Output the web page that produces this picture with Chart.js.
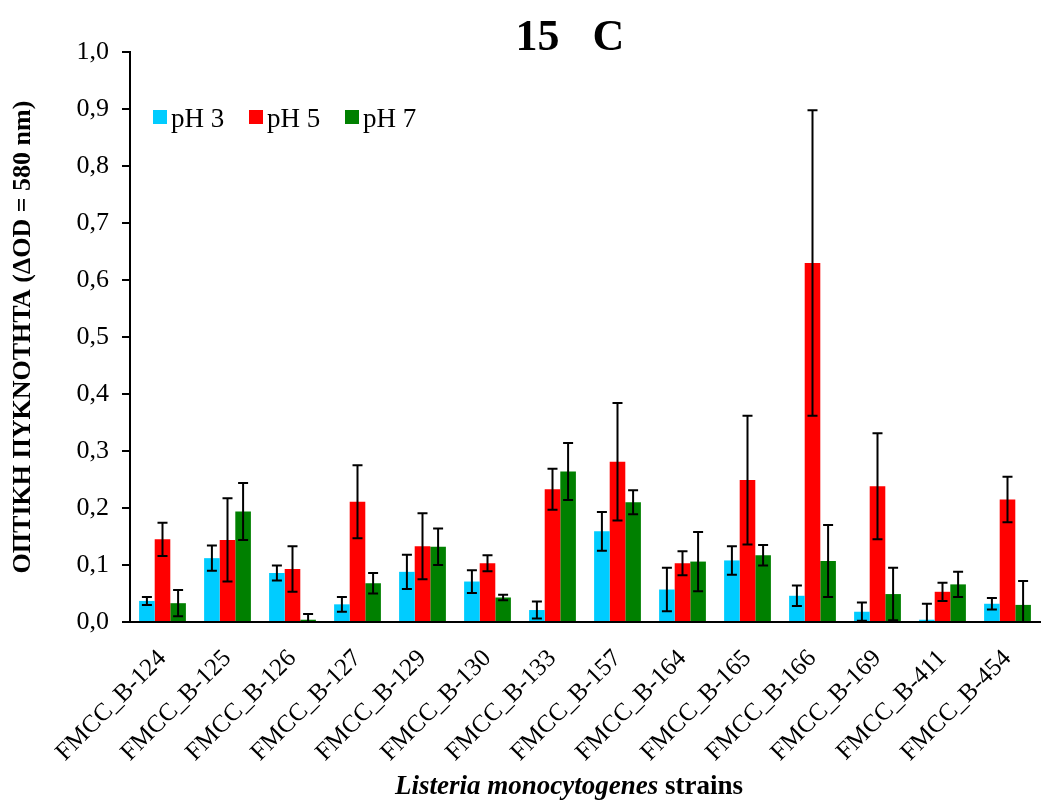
<!DOCTYPE html>
<html>
<head>
<meta charset="utf-8">
<script src="https://cdn.jsdelivr.net/npm/chart.js@4"></script>
<style>
    body { margin: 0; background: #fff; }
    #wrap { width: 1044px; height: 801px; }
</style>
</head>
<body>
<div id="wrap"><canvas id="odChart" width="1044" height="801"></canvas></div>
<script>
// strains on the x axis
const strains = ['FMCC_B-124', 'FMCC_B-125', 'FMCC_B-126', 'FMCC_B-127', 'FMCC_B-129', 'FMCC_B-130', 'FMCC_B-133',
    'FMCC_B-157', 'FMCC_B-164', 'FMCC_B-165', 'FMCC_B-166', 'FMCC_B-169', 'FMCC_B-411', 'FMCC_B-454'];

// mean OD values per pH
const ph3 = [0.037, 0.112, 0.086, 0.031, 0.088, 0.071, 0.021, 0.159, 0.057, 0.108, 0.046, 0.018, 0.004, 0.032];
const ph5 = [0.145, 0.144, 0.093, 0.211, 0.133, 0.103, 0.233, 0.281, 0.103, 0.249, 0.630, 0.238, 0.053, 0.215];
const ph7 = [0.033, 0.194, 0.004, 0.068, 0.132, 0.043, 0.264, 0.210, 0.106, 0.117, 0.107, 0.049, 0.066, 0.030];

// standard deviations (error bars)
const ph3Err = [0.007, 0.022, 0.013, 0.013, 0.030, 0.020, 0.015, 0.034, 0.038, 0.025, 0.018, 0.016, 0.028, 0.010];
const ph5Err = [0.029, 0.073, 0.040, 0.064, 0.058, 0.014, 0.036, 0.103, 0.021, 0.113, 0.268, 0.093, 0.016, 0.040];
const ph7Err = [0.023, 0.050, 0.010, 0.018, 0.032, 0.005, 0.050, 0.021, 0.052, 0.018, 0.063, 0.046, 0.022, 0.042];

const seriesNames = ['pH 3', 'pH 5', 'pH 7'];
const seriesColors = ['#00CCFF', '#FF0000', '#008000'];

const serif = "'Liberation Serif', 'Times New Roman', serif";

// draws the error bars from the y scale
const errorBars = {
    id: 'errorBars',
    afterDatasetsDraw(chart) {
        const ctx = chart.ctx;
        const y = chart.scales.y;
        const bottom = chart.chartArea.bottom;
        ctx.save();
        ctx.strokeStyle = '#000';
        ctx.lineWidth = 2;
        chart.data.datasets.forEach((ds, di) => {
            const meta = chart.getDatasetMeta(di);
            meta.data.forEach((bar, i) => {
                const v = ds.data[i];
                const e = ds.errors[i];
                const top = y.getPixelForValue(v + e);
                let low = y.getPixelForValue(v - e);
                const clipped = low > bottom;
                if (clipped) low = bottom;
                const cap = 5;
                ctx.beginPath();
                ctx.moveTo(bar.x, top);
                ctx.lineTo(bar.x, low);
                ctx.moveTo(bar.x - cap, top);
                ctx.lineTo(bar.x + cap, top);
                if (!clipped) {
                    ctx.moveTo(bar.x - cap, low);
                    ctx.lineTo(bar.x + cap, low);
                }
                ctx.stroke();
            });
        });
        ctx.restore();
    }
};

// title, legend inside the plot and the x axis title with mixed styles
const extraText = {
    id: 'extraText',
    afterDraw(chart) {
        const ctx = chart.ctx;
        ctx.save();
        ctx.fillStyle = '#000';
        ctx.textBaseline = 'alphabetic';

        ctx.font = 'bold 44px ' + serif;
        ctx.textAlign = 'center';
        ctx.fillText('15   C', 570, 50);

        // legend
        ctx.font = '27px ' + serif;
        ctx.textAlign = 'left';
        const legendX = [153, 249, 345];
        seriesNames.forEach((name, i) => {
            ctx.fillStyle = seriesColors[i];
            ctx.fillRect(legendX[i], 110, 14, 14);
            ctx.fillStyle = '#000';
            ctx.fillText(name, legendX[i] + 18, 127);
        });

        // x axis title
        const part1 = 'Listeria monocytogenes';
        const part2 = ' strains';
        ctx.font = 'italic bold 27px ' + serif;
        const w1 = ctx.measureText(part1).width;
        ctx.font = 'bold 27px ' + serif;
        const w2 = ctx.measureText(part2).width;
        let sx = 569 - (w1 + w2) / 2;
        ctx.font = 'italic bold 27px ' + serif;
        ctx.fillText(part1, sx, 794);
        ctx.font = 'bold 27px ' + serif;
        ctx.fillText(part2, sx + w1, 794);
        ctx.restore();
    }
};

const ctx = document.getElementById('odChart').getContext('2d');
new Chart(ctx, {
    type: 'bar',
    data: {
        labels: strains,
        datasets: [
            { label: seriesNames[0], data: ph3, errors: ph3Err, backgroundColor: seriesColors[0] },
            { label: seriesNames[1], data: ph5, errors: ph5Err, backgroundColor: seriesColors[1] },
            { label: seriesNames[2], data: ph7, errors: ph7Err, backgroundColor: seriesColors[2] }
        ]
    },
    options: {
        responsive: false,
        animation: false,
        devicePixelRatio: 1,
        layout: { padding: { left: 0, right: 4, top: 52, bottom: 0 } },
        datasets: {
            bar: { categoryPercentage: 0.72, barPercentage: 1.0 }
        },
        plugins: {
            legend: { display: false },
            tooltip: { enabled: false }
        },
        scales: {
            x: {
                grid: { display: false, drawTicks: false },
                border: { display: true, color: '#000', width: 2 },
                ticks: {
                    color: '#000',
                    font: { family: serif, size: 25 },
                    minRotation: 45,
                    maxRotation: 45,
                    padding: 22
                },
                afterFit: function(scale) {
                    scale.height = 179;
                    scale.paddingLeft = 0;
                    scale.paddingRight = 0;
                }
            },
            y: {
                min: 0,
                max: 1.0,
                grid: { drawOnChartArea: false, drawTicks: true, tickLength: 8, color: '#000', lineWidth: 2 },
                border: { display: true, color: '#000', width: 2 },
                ticks: {
                    stepSize: 0.1,
                    color: '#000',
                    padding: 13,
                    font: { family: serif, size: 26 },
                    callback: function(v) { return v.toFixed(1).replace('.', ','); }
                },
                title: {
                    display: true,
                    text: 'ΟΠΤΙΚΗ ΠΥΚΝΟΤΗΤΑ (ΔOD = 580 nm)',
                    color: '#000',
                    font: { family: serif, size: 26, weight: 'bold' },
                    padding: { top: 8, bottom: 0 }
                },
                afterFit: function(scale) { scale.width = 130; }
            }
        }
    },
    plugins: [errorBars, extraText]
});
</script>
</body>
</html>
